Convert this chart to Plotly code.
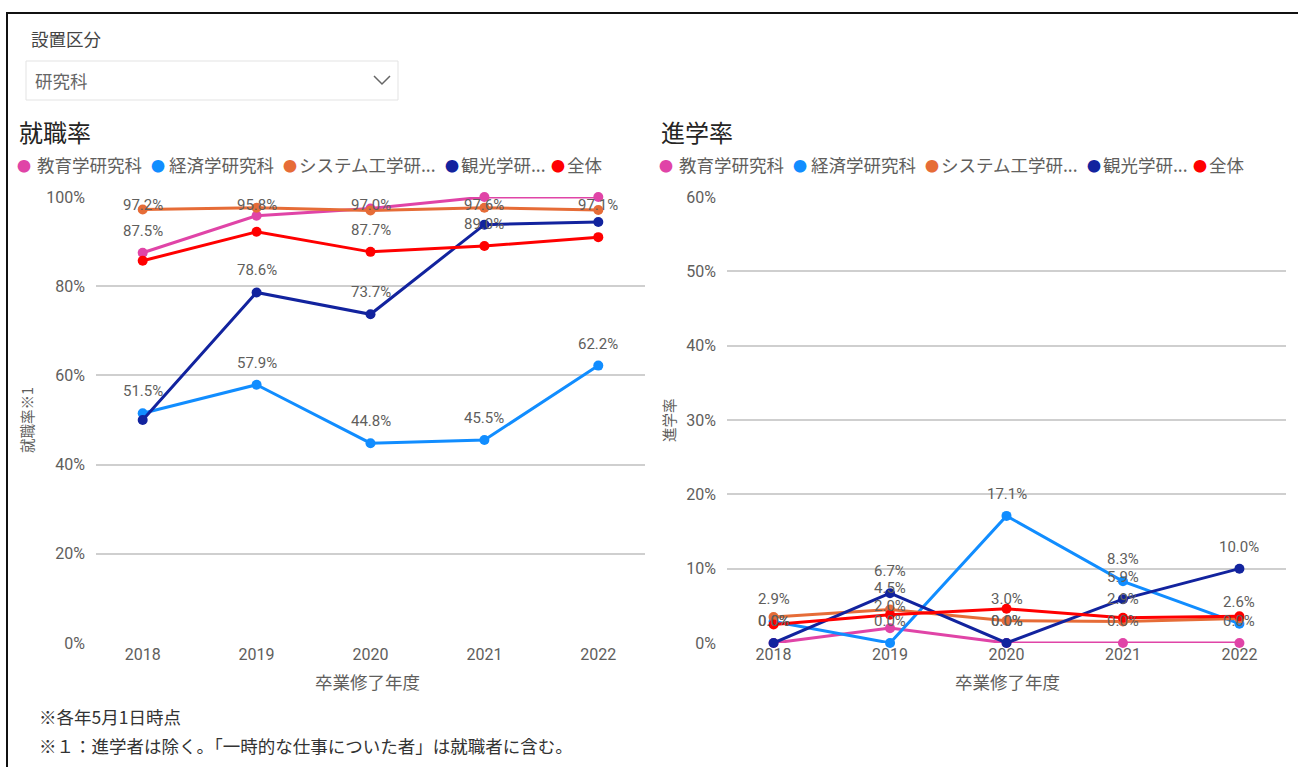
import plotly.graph_objects as go

# ---------------- data ----------------
years = ["2018", "2019", "2020", "2021", "2022"]
series_names = ["教育学研究科", "経済学研究科", "システム工学研究科", "観光学研究科", "全体"]
legend_labels = ["教育学研究科", "経済学研究科", "システム工学研...", "観光学研...", "全体"]

# 就職率 (%)
emp_edu = [87.5, 95.8, 97.4, 100.0, 100.0]
emp_eco = [51.5, 57.9, 44.8, 45.5, 62.2]
emp_sys = [97.2, 97.6, 97.0, 97.6, 97.1]
emp_tour = [50.0, 78.6, 73.7, 93.8, 94.4]
emp_all = [85.7, 92.2, 87.7, 89.0, 91.0]

# 進学率 (%)
adv_edu = [0.0, 2.0, 0.0, 0.0, 0.0]
adv_eco = [2.9, 0.0, 17.1, 8.3, 2.6]
adv_sys = [3.5, 4.5, 3.0, 2.9, 3.3]
adv_tour = [0.0, 6.7, 0.0, 5.9, 10.0]
adv_all = [2.5, 3.8, 4.6, 3.4, 3.6]

# which points carry a visible data label
emp_label_edu = [1, 1, 0, 0, 0]
emp_label_eco = [1, 1, 1, 1, 1]
emp_label_sys = [1, 0, 1, 1, 1]
emp_label_tour = [0, 1, 1, 0, 0]
emp_label_all = [0, 0, 1, 1, 0]

adv_label_edu = [1, 1, 1, 1, 1]
adv_label_eco = [1, 1, 1, 1, 1]
adv_label_sys = [0, 1, 1, 1, 0]
adv_label_tour = [1, 1, 1, 1, 1]
adv_label_all = [0, 0, 0, 0, 0]

emp_ticks = [0, 20, 40, 60, 80, 100]
adv_ticks = [0, 10, 20, 30, 40, 50, 60]

# ---------------- styling ----------------
W, H = 1298, 767
colors = ["#E044A7", "#118DFF", "#E66C37", "#12239E", "#FF0000"]
CJK = "Noto Sans CJK JP"
NUM = "Roboto, Noto Sans CJK JP, sans-serif"
GRID = "#CFCFCF"
TXT = "#605E5C"
CJK_SIZE = 17.5


def px(x):
    return x / W


def py(y):
    return 1 - y / H


PLOT_TOP, PLOT_BOT = 197, 643
L_X0, L_X1 = 96, 645
R_X0, R_X1 = 727, 1286
PLOT_H = PLOT_BOT - PLOT_TOP

emp_series = [emp_edu, emp_eco, emp_sys, emp_tour, emp_all]
adv_series = [adv_edu, adv_eco, adv_sys, adv_tour, adv_all]
emp_labels = [emp_label_edu, emp_label_eco, emp_label_sys, emp_label_tour, emp_label_all]
adv_labels = [adv_label_edu, adv_label_eco, adv_label_sys, adv_label_tour, adv_label_all]

fig = go.Figure()
annotations = []

for i, name in enumerate(series_names):
    fig.add_trace(go.Scatter(
        x=years, y=emp_series[i], name=name, mode="lines+markers",
        line=dict(color=colors[i], width=3), marker=dict(color=colors[i], size=10),
        xaxis="x", yaxis="y", cliponaxis=False, showlegend=False,
    ))
for i, name in enumerate(series_names):
    fig.add_trace(go.Scatter(
        x=years, y=adv_series[i], name=name, mode="lines+markers",
        line=dict(color=colors[i], width=3), marker=dict(color=colors[i], size=10),
        xaxis="x2", yaxis="y2", cliponaxis=False, showlegend=False,
    ))


def ann(x, y, text, size, color, family=CJK, xanchor="left", **kw):
    d = dict(x=px(x), y=py(y), xref="paper", yref="paper", text=text, showarrow=False,
             xanchor=xanchor, yanchor="middle", font=dict(family=family, size=size, color=color))
    d.update(kw)
    return d


# data labels (category index positions on the category axes)
emp_max = emp_ticks[-1]
for i in range(len(series_names)):
    for j in range(len(years)):
        if emp_labels[i][j]:
            v = emp_series[i][j]
            room = (emp_max - v) * PLOT_H / emp_max - 8
            shift = max(0, min(22, room))
            annotations.append(dict(
                x=j, y=v, xref="x", yref="y", text=f"{v:.1f}%", showarrow=False,
                xanchor="center", yanchor="middle", yshift=shift,
                font=dict(family=NUM, size=15, color=TXT),
            ))
for i in range(len(series_names)):
    for j in range(len(years)):
        if adv_labels[i][j]:
            v = adv_series[i][j]
            annotations.append(dict(
                x=j, y=v, xref="x2", yref="y2", text=f"{v:.1f}%", showarrow=False,
                xanchor="center", yanchor="middle", yshift=22,
                font=dict(family=NUM, size=15, color=TXT),
            ))

# chart titles
annotations.append(ann(17, 132, "就職率", 24, "#252423"))
annotations.append(ann(659, 132, "進学率", 24, "#252423"))

# custom legends
dot_x = [24, 158, 290, 452, 558]
text_x = [35, 167, 297, 459, 565]
for off in (0, 642):
    for i, lab in enumerate(legend_labels):
        annotations.append(ann(dot_x[i] + off, 165, "●", 14, colors[i], xanchor="center"))
        annotations.append(ann(text_x[i] + off, 165, lab, CJK_SIZE, TXT))

# axis titles
annotations.append(ann(367, 681, "卒業修了年度", CJK_SIZE, TXT, xanchor="center"))
annotations.append(ann(1007, 681, "卒業修了年度", CJK_SIZE, TXT, xanchor="center"))
annotations.append(ann(26, 420, "就職率※1", 14.5, TXT, xanchor="center", textangle=-90))
annotations.append(ann(668, 420, "進学率", 14.5, TXT, xanchor="center", textangle=-90))

# slicer
annotations.append(ann(29, 38, "設置区分", CJK_SIZE, "#444444"))
annotations.append(ann(33, 80, "研究科", CJK_SIZE, "#666666"))

# notes
annotations.append(ann(37, 716, "※各年5月1日時点", CJK_SIZE, "#333333"))
annotations.append(ann(37, 745, "※１：進学者は除く。「一時的な仕事についた者」は就職者に含む。",
                       CJK_SIZE, "#333333"))

shapes = [
    # outer frame
    dict(type="rect", xref="paper", yref="paper", x0=px(7), x1=px(1320), y0=py(790), y1=py(13),
         line=dict(color="#111111", width=2), fillcolor="rgba(0,0,0,0)"),
    # slicer box
    dict(type="rect", xref="paper", yref="paper", x0=px(26), x1=px(398), y0=py(100), y1=py(61),
         line=dict(color="#E3E3E3", width=1), fillcolor="white"),
    # chevron
    dict(type="path", xref="paper", yref="paper",
         path=f"M {px(374)},{py(76)} L {px(382)},{py(84)} L {px(390)},{py(76)}",
         line=dict(color="#666666", width=1.5)),
]

axis_common = dict(showline=False, ticks="", zeroline=False, automargin=False)

fig.update_layout(
    width=W, height=H,
    margin=dict(l=0, r=0, t=0, b=0),
    paper_bgcolor="white", plot_bgcolor="white",
    font=dict(family=CJK),
    showlegend=False,
    xaxis=dict(domain=[px(L_X0), px(L_X1)], type="category", range=[-0.41, 4.41],
               showgrid=False, tickfont=dict(family=NUM, size=16, color=TXT), **axis_common),
    yaxis=dict(domain=[py(PLOT_BOT), py(PLOT_TOP)], range=[0, emp_ticks[-1]], tickvals=emp_ticks,
               ticktext=[f"{t}%" for t in emp_ticks], showgrid=True, gridcolor=GRID, gridwidth=2,
               tickfont=dict(family=NUM, size=16, color=TXT), ticklabelstandoff=10,
               anchor="x", **axis_common),
    xaxis2=dict(domain=[px(R_X0), px(R_X1)], type="category", range=[-0.40, 4.40],
                showgrid=False, tickfont=dict(family=NUM, size=16, color=TXT), anchor="y2",
                **axis_common),
    yaxis2=dict(domain=[py(PLOT_BOT), py(PLOT_TOP)], range=[0, adv_ticks[-1]], tickvals=adv_ticks,
                ticktext=[f"{t}%" for t in adv_ticks], showgrid=True, gridcolor=GRID, gridwidth=2,
                tickfont=dict(family=NUM, size=16, color=TXT), ticklabelstandoff=10,
                anchor="x2", **axis_common),
    annotations=annotations,
    shapes=shapes,
)

fig.write_html("out.html", config={"displayModeBar": False},
               post_script="document.body.style.margin='0';document.body.style.overflow='hidden';")
